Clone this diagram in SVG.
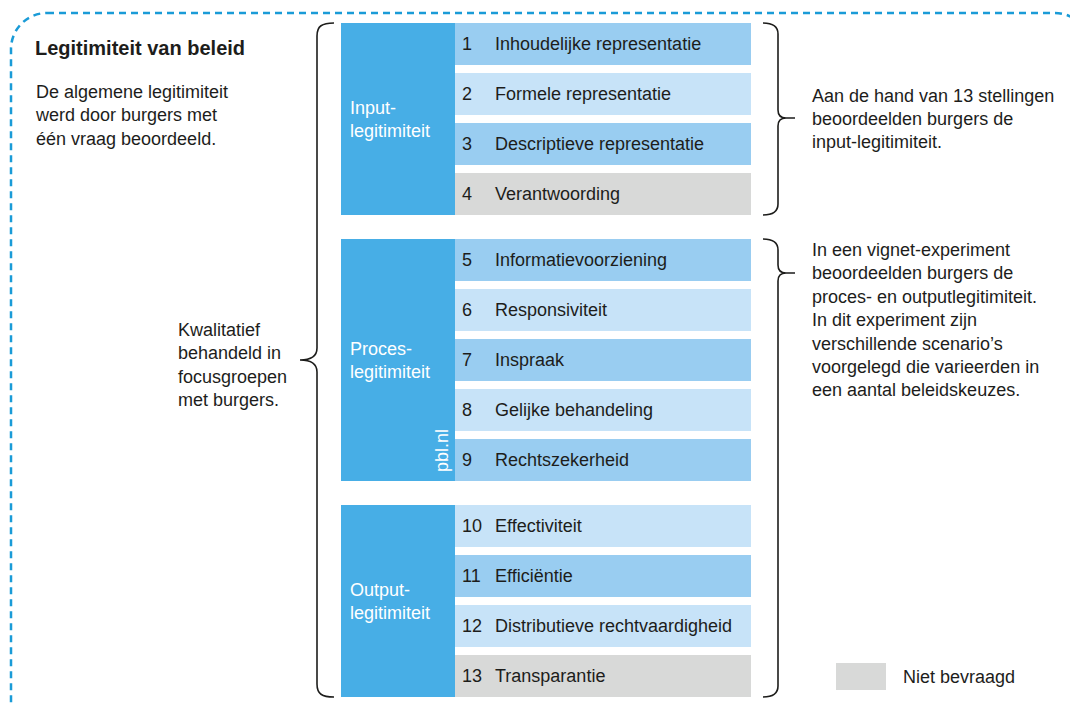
<svg xmlns="http://www.w3.org/2000/svg" width="1070" height="704" viewBox="0 0 1070 704">
<style>
text{font-family:"Liberation Sans",Arial,sans-serif;fill:#1d1d1b;font-size:18px}
.w{fill:#fff}
.b{font-weight:bold;font-size:20px}
.cat{fill:#47aee6}
.m{fill:#99cdf1}
.l{fill:#c7e3f8}
.g{fill:#d8d9d8}
.br{fill:none;stroke:#1d1d1b;stroke-width:1.6}
</style>
<rect x="11" y="13" width="1080" height="740" rx="36" fill="none" stroke="#1a9bd7" stroke-width="2.5" stroke-dasharray="7 5"/>
<g id="header">
<text class="b" x="35" y="55">Legitimiteit van beleid</text>
<text x="36" y="98">De algemene legitimiteit</text>
<text x="36" y="121">werd door burgers met</text>
<text x="36" y="145">één vraag beoordeeld.</text>
</g>
<g id="left-note">
<text x="178" y="336">Kwalitatief</text>
<text x="178" y="359">behandeld in</text>
<text x="178" y="383">focusgroepen</text>
<text x="178" y="406">met burgers.</text>
</g>
<g id="input">
<rect class="cat" x="341" y="23" width="114" height="192"/>
<text class="w" x="350" y="114">Input-</text>
<text class="w" x="350" y="137">legitimiteit</text>
<rect class="m" x="455" y="23" width="296" height="42"/><text x="462" y="50">1</text><text x="495" y="50">Inhoudelijke representatie</text>
<rect class="l" x="455" y="73" width="296" height="42"/><text x="462" y="100">2</text><text x="495" y="100">Formele representatie</text>
<rect class="m" x="455" y="123" width="296" height="42"/><text x="462" y="150">3</text><text x="495" y="150">Descriptieve representatie</text>
<rect class="g" x="455" y="173" width="296" height="42"/><text x="462" y="200">4</text><text x="495" y="200">Verantwoording</text>
</g>
<g id="proces">
<rect class="cat" x="341" y="239" width="114" height="242"/>
<text class="w" x="350" y="355">Proces-</text>
<text class="w" x="350" y="378">legitimiteit</text>
<text class="w" x="0" y="0" font-size="14" transform="translate(448,472) rotate(-90)">pbl.nl</text>
<rect class="m" x="455" y="239" width="296" height="42"/><text x="462" y="266">5</text><text x="495" y="266">Informatievoorziening</text>
<rect class="l" x="455" y="289" width="296" height="42"/><text x="462" y="316">6</text><text x="495" y="316">Responsiviteit</text>
<rect class="m" x="455" y="339" width="296" height="42"/><text x="462" y="366">7</text><text x="495" y="366">Inspraak</text>
<rect class="l" x="455" y="389" width="296" height="42"/><text x="462" y="416">8</text><text x="495" y="416">Gelijke behandeling</text>
<rect class="m" x="455" y="439" width="296" height="42"/><text x="462" y="466">9</text><text x="495" y="466">Rechtszekerheid</text>
</g>
<g id="output">
<rect class="cat" x="341" y="505" width="114" height="192"/>
<text class="w" x="350" y="596">Output-</text>
<text class="w" x="350" y="619">legitimiteit</text>
<rect class="l" x="455" y="505" width="296" height="42"/><text x="462" y="532" font-size="16">10</text><text x="495" y="532">Effectiviteit</text>
<rect class="m" x="455" y="555" width="296" height="42"/><text x="462" y="582" font-size="16">11</text><text x="495" y="582">Efficiëntie</text>
<rect class="l" x="455" y="605" width="296" height="42"/><text x="462" y="632" font-size="16">12</text><text x="495" y="632">Distributieve rechtvaardigheid</text>
<rect class="g" x="455" y="655" width="296" height="42"/><text x="462" y="682" font-size="16">13</text><text x="495" y="682">Transparantie</text>
</g>
<g id="right-notes">
<text x="812" y="102">Aan de hand van 13 stellingen</text>
<text x="812" y="125">beoordeelden burgers de</text>
<text x="812" y="148">input-legitimiteit.</text>
<text x="812" y="256">In een vignet-experiment</text>
<text x="812" y="279">beoordeelden burgers de</text>
<text x="812" y="303">proces- en outputlegitimiteit.</text>
<text x="812" y="326">In dit experiment zijn</text>
<text x="812" y="350">verschillende scenario’s</text>
<text x="812" y="373">voorgelegd die varieerden in</text>
<text x="812" y="396">een aantal beleidskeuzes.</text>
</g>
<g id="legend">
<rect class="g" x="836" y="663" width="50" height="27"/>
<text x="903" y="683">Niet bevraagd</text>
</g>
<g id="connectors">
<path class="br" d="M334,23 C322,23 317,26 317,36 V348 C317,356 312,360 300,360 C312,360 317,364 317,372 V684 C317,694 322,697 334,697"/>
<path class="br" d="M763,23 C773,23 778,26 778,34 V110 C778,115 781,118 786,118 H795 M786,118 C781,118 778,121 778,126 V204 C778,212 773,215 763,215"/>
<path class="br" d="M763,239 C773,239 778,242 778,250 V265 C778,270 781,273 786,273 H795 M786,273 C781,273 778,276 778,281 V686 C778,694 773,697 763,697"/>
</g>
</svg>
